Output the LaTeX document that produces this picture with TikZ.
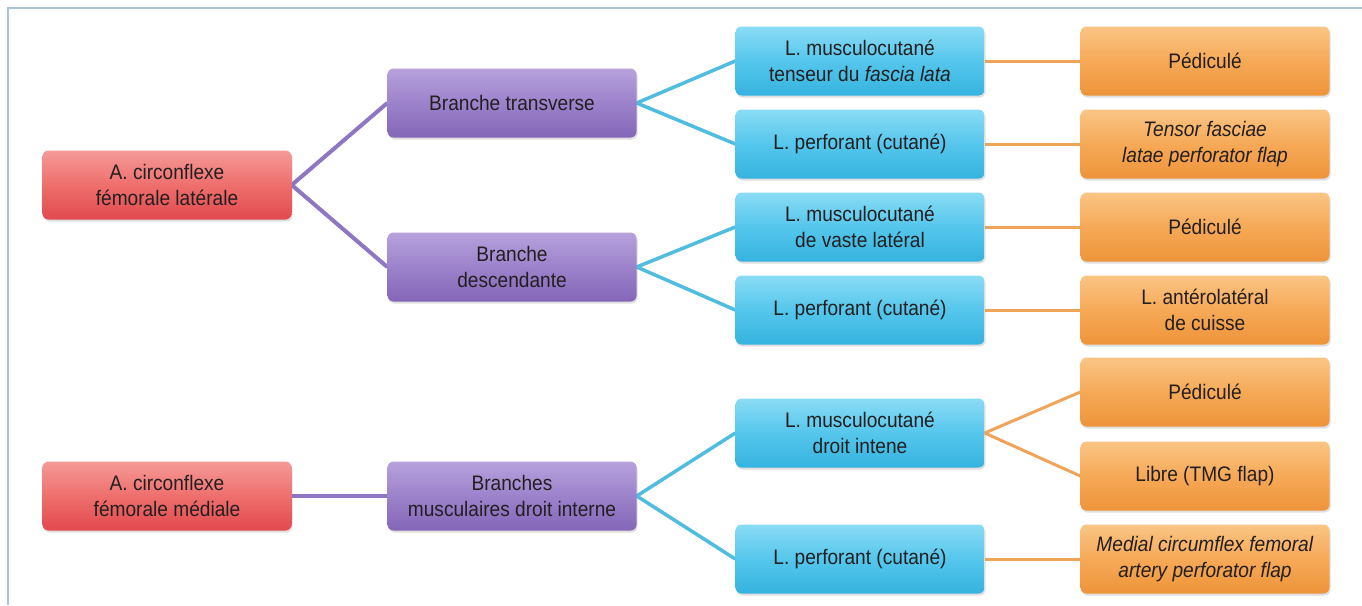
\documentclass[tikz,border=0pt]{standalone}
\usepackage{fontspec}
\setmainfont{Liberation Sans}[FakeStretch=0.91]
\usetikzlibrary{shadows,backgrounds}
\definecolor{frame}{HTML}{A6C7DA}
\definecolor{txt}{HTML}{231F20}
\definecolor{redT}{HTML}{F59A98}\definecolor{redM}{HTML}{EE6F6D}\definecolor{redB}{HTML}{E2494E}
\definecolor{purT}{HTML}{B7A2DD}\definecolor{purM}{HTML}{9C82CB}\definecolor{purB}{HTML}{8466B8}
\definecolor{cyaT}{HTML}{8ADCF5}\definecolor{cyaM}{HTML}{55C6EC}\definecolor{cyaB}{HTML}{35B3DF}
\definecolor{oraT}{HTML}{FAC585}\definecolor{oraM}{HTML}{F6A957}\definecolor{oraB}{HTML}{EE943A}
\definecolor{purL}{HTML}{8E76C2}\definecolor{cyaL}{HTML}{4FBCE0}\definecolor{oraL}{HTML}{F0A45A}
\tikzset{
  box/.style={rounded corners=6pt, minimum width=249pt, minimum height=69pt, align=center,
    text=txt, font=\fontsize{21}{26}\selectfont, inner xsep=2pt,
    drop shadow={opacity=0.25, shadow xshift=1pt, shadow yshift=-2pt}},
  redbox/.style={box, top color=redT, bottom color=redB, middle color=redM},
  purbox/.style={box, top color=purT, bottom color=purB, middle color=purM},
  cyabox/.style={box, top color=cyaT, bottom color=cyaB, middle color=cyaM},
  orabox/.style={box, top color=oraT, bottom color=oraB, middle color=oraM},
  purline/.style={draw=purL, line width=4pt},
  cyaline/.style={draw=cyaL, line width=3.5pt},
  oraline/.style={draw=oraL, line width=3pt},
}
\begin{document}
\begin{tikzpicture}[x=1pt,y=-1pt]
\useasboundingbox (0,0) rectangle (1362,605);
\coordinate (fa) at (1362,8);
\coordinate (fb) at (8,8);
\coordinate (fc) at (8,605);

% red
\node[redbox] (r1) at (167,185) {A. circonflexe\\fémorale latérale};
\node[redbox] (r2) at (167,496) {A. circonflexe\\fémorale médiale};
% purple
\node[purbox] (p1) at (512,103) {Branche transverse};
\node[purbox] (p2) at (512,267) {Branche\\descendante};
\node[purbox] (p3) at (512,496) {Branches\\musculaires droit interne};
% cyan
\node[cyabox] (c1) at (860,61) {L. musculocutané\\tenseur du \textit{fascia lata}};
\node[cyabox] (c2) at (860,144) {L. perforant (cutané)};
\node[cyabox] (c3) at (860,227) {L. musculocutané\\de vaste latéral};
\node[cyabox] (c4) at (860,310) {L. perforant (cutané)};
\node[cyabox] (c5) at (860,433) {L. musculocutané\\droit intene};
\node[cyabox] (c6) at (860,559) {L. perforant (cutané)};
% orange
\node[orabox] (o1) at (1205,61) {Pédiculé};
\node[orabox] (o2) at (1205,144) {\textit{Tensor fasciae}\\\textit{latae perforator flap}};
\node[orabox] (o3) at (1205,227) {Pédiculé};
\node[orabox] (o4) at (1205,310) {L. antérolatéral\\de cuisse};
\node[orabox] (o5) at (1205,392) {Pédiculé};
\node[orabox] (o6) at (1205,476) {Libre (TMG flap)};
\node[orabox] (o7) at (1205,559) {\textit{Medial circumflex femoral}\\\textit{artery perforator flap}};

\begin{scope}[on background layer]
\fill[white] (0,0) rectangle (1362,605);
\draw[frame, line width=2.5pt] (fa) -- (fb) -- (fc);
\draw[purline] (r1.east) -- (p1.west);
\draw[purline] (r1.east) -- (p2.west);
\draw[purline] (r2.east) -- (p3.west);
\draw[cyaline] (p1.east) -- (c1.west);
\draw[cyaline] (p1.east) -- (c2.west);
\draw[cyaline] (p2.east) -- (c3.west);
\draw[cyaline] (p2.east) -- (c4.west);
\draw[cyaline] (p3.east) -- (c5.west);
\draw[cyaline] (p3.east) -- (c6.west);
\draw[oraline] (c1.east) -- (o1.west);
\draw[oraline] (c2.east) -- (o2.west);
\draw[oraline] (c3.east) -- (o3.west);
\draw[oraline] (c4.east) -- (o4.west);
\draw[oraline] (c5.east) -- (o5.west);
\draw[oraline] (c5.east) -- (o6.west);
\draw[oraline] (c6.east) -- (o7.west);
\end{scope}
\end{tikzpicture}
\end{document}
